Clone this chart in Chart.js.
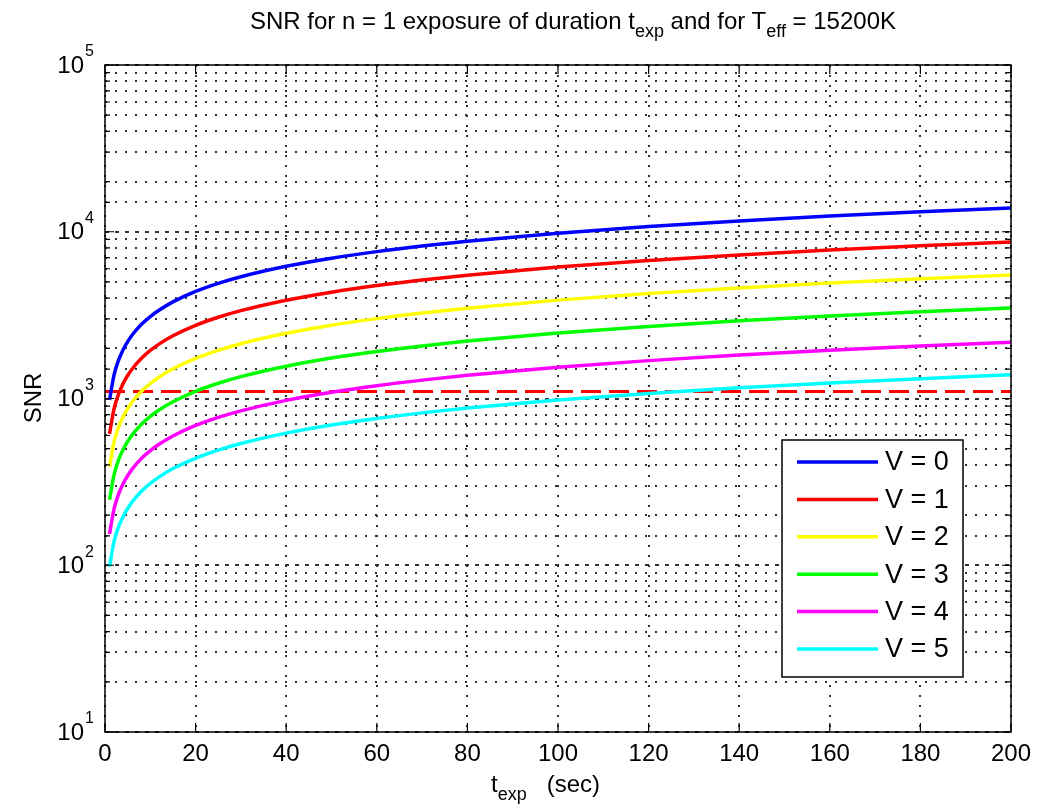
<!DOCTYPE html>
<html lang="en">
<head>
<meta charset="UTF-8">
<title>SNR vs exposure time</title>
<script src="https://cdn.jsdelivr.net/npm/chart.js"></script>
<style>
  body { margin: 0; background: #fff; font-family: "Liberation Sans", Arial, sans-serif; }
  #wrap { position: relative; width: 1043px; height: 812px; }
  #wrap canvas { position: absolute; left: 0; top: 0; }
  .lbl { position: absolute; color: #000; white-space: nowrap; font-size: 24px; line-height: 26px; z-index: 2; }
  .lbl sub { font-size: 18px; vertical-align: -8px; line-height: 0; }
  #title { left: 250px; top: 8px; }
  #xlabel { left: 491px; top: 771px; }
  #ylabel { left: -7px; top: 385px; width: 80px; text-align: center; transform: rotate(-90deg); }
</style>
</head>
<body>
<div id="wrap">
  <div id="title" class="lbl">SNR for n = 1 exposure of duration t<sub>exp</sub> and for T<sub>eff</sub> = 15200K</div>
  <div id="xlabel" class="lbl">t<sub>exp</sub>&nbsp;&nbsp;&nbsp;(sec)</div>
  <div id="ylabel" class="lbl">SNR</div>
  <canvas id="snrChart" width="1043" height="812"></canvas>
</div>

<script>
// exposure times (sec) and SNR
const tExp  = [1, 2, 3, 4, 5, 6, 8, 10, 12, 15, 20, 25, 30, 40, 50, 60, 70, 80, 100, 120, 140, 160, 180, 200];
const snrV0 = [981, 1387, 1699, 1962, 2194, 2403, 2775, 3102, 3398, 3799, 4387, 4905, 5373, 6205, 6937, 7599, 8208, 8774, 9810, 10746, 11607, 12409, 13161, 13873];
const snrV1 = [614, 868, 1063, 1228, 1373, 1504, 1736, 1941, 2127, 2378, 2746, 3070, 3363, 3884, 4342, 4756, 5137, 5492, 6140, 6726, 7265, 7766, 8237, 8683];
const snrV2 = [389, 550, 674, 778, 870, 953, 1100, 1230, 1347, 1507, 1740, 1945, 2131, 2460, 2751, 3013, 3255, 3479, 3890, 4261, 4603, 4920, 5219, 5501];
const snrV3 = [247, 349, 428, 494, 552, 605, 699, 781, 856, 957, 1105, 1235, 1353, 1562, 1747, 1913, 2067, 2209, 2470, 2706, 2923, 3124, 3314, 3493];
const snrV4 = [154, 218, 267, 308, 344, 377, 436, 487, 533, 596, 689, 770, 843, 974, 1089, 1193, 1289, 1377, 1540, 1687, 1822, 1948, 2066, 2178];
const snrV5 = [98, 139, 170, 196, 219, 240, 277, 310, 339, 380, 438, 490, 537, 620, 693, 759, 820, 877, 980, 1073, 1160, 1240, 1315, 1386];
const seriesLabels = ['V = 0', 'V = 1', 'V = 2', 'V = 3', 'V = 4', 'V = 5'];
const seriesColors = ['#0000ff', '#ff0000', '#ffff00', '#00ff00', '#ff00ff', '#00ffff'];
const thresholdSNR = 1100;
const xRange = [0, 200];
const yDecades = [10, 100, 1000, 10000, 100000];

const allSeries = [snrV0, snrV1, snrV2, snrV3, snrV4, snrV5];
const isDecade = v => Math.abs(Math.log10(v) - Math.round(Math.log10(v))) < 1e-9;
const FONT = '"Liberation Sans", Arial, sans-serif';

const datasets = allSeries.map((vals, i) => ({
    label: seriesLabels[i],
    data: tExp.map((t, j) => ({ x: t, y: vals[j] })),
    borderColor: seriesColors[i],
    borderWidth: 3.5,
    pointRadius: 0,
    cubicInterpolationMode: 'monotone',
    inLegend: true
}));
datasets.push({
    label: 'threshold',
    data: [{ x: xRange[0], y: thresholdSNR }, { x: xRange[1], y: thresholdSNR }],
    borderColor: '#ff0000',
    borderWidth: 3,
    borderDash: [20, 8],
    pointRadius: 0,
    inLegend: false
});

// box, inner tick marks, superscript y labels and legend box like matlab
const matlabAxes = {
    id: 'matlabAxes',
    afterDraw(chart) {
        const ctx = chart.ctx;
        const a = chart.chartArea;
        const xs = chart.scales.x, ys = chart.scales.y;
        ctx.save();
        ctx.strokeStyle = '#000';
        ctx.lineWidth = 1.5;
        ctx.strokeRect(a.left, a.top, a.right - a.left, a.bottom - a.top);

        ctx.lineWidth = 1.2;
        ctx.beginPath();
        xs.ticks.forEach(t => {
            const px = xs.getPixelForValue(t.value);
            ctx.moveTo(px, a.bottom); ctx.lineTo(px, a.bottom - 9);
            ctx.moveTo(px, a.top); ctx.lineTo(px, a.top + 9);
        });
        ys.ticks.forEach(t => {
            const py = ys.getPixelForValue(t.value);
            const len = isDecade(t.value) ? 9 : 5;
            ctx.moveTo(a.left, py); ctx.lineTo(a.left + len, py);
            ctx.moveTo(a.right, py); ctx.lineTo(a.right - len, py);
        });
        ctx.stroke();

        ctx.fillStyle = '#000';
        yDecades.forEach(d => {
            const py = ys.getPixelForValue(d);
            ctx.font = '24px ' + FONT;
            ctx.textAlign = 'right';
            ctx.textBaseline = 'middle';
            ctx.fillText('10', 84, py + 1);
            ctx.font = '16px ' + FONT;
            ctx.textAlign = 'left';
            ctx.fillText(String(Math.round(Math.log10(d))), 85, py - 13);
        });

        // legend
        const bx = 782, by = 440, bw = 181, bh = 237;
        ctx.fillStyle = '#fff';
        ctx.fillRect(bx, by, bw, bh);
        ctx.lineWidth = 1.5;
        ctx.strokeStyle = '#000';
        ctx.strokeRect(bx, by, bw, bh);
        const items = chart.data.datasets.filter(d => d.inLegend);
        items.forEach((d, i) => {
            const ry = by + 22 + i * 37.4;
            ctx.strokeStyle = d.borderColor;
            ctx.lineWidth = 3.5;
            ctx.beginPath();
            ctx.moveTo(bx + 15, ry); ctx.lineTo(bx + 96, ry);
            ctx.stroke();
            ctx.fillStyle = '#000';
            ctx.font = '27px ' + FONT;
            ctx.textAlign = 'left';
            ctx.textBaseline = 'middle';
            ctx.fillText(d.label, bx + 103, ry + 1);
        });
        ctx.restore();
    }
};

new Chart(document.getElementById('snrChart').getContext('2d'), {
    type: 'line',
    data: { datasets: datasets },
    options: {
        responsive: false,
        animation: false,
        layout: { padding: { left: 0, top: 65, right: 32, bottom: 0 } },
        plugins: {
            legend: { display: false },
            tooltip: { enabled: false }
        },
        scales: {
            x: {
                type: 'linear',
                min: xRange[0],
                max: xRange[1],
                afterFit: s => { s.height = 80; },
                ticks: {
                    stepSize: 20,
                    autoSkip: false,
                    maxRotation: 0,
                    padding: 8,
                    color: '#000',
                    font: { size: 24, family: FONT }
                },
                grid: { color: '#333', lineWidth: 2, drawTicks: false },
                border: { display: false, dash: [2, 8] }
            },
            y: {
                type: 'logarithmic',
                min: 10,
                max: 100000,
                afterFit: s => { s.width = 105; },
                ticks: { display: false, autoSkip: false },
                grid: { color: '#333', lineWidth: 2, drawTicks: false },
                border: {
                    display: false,
                    dash: ctx => (ctx.tick && isDecade(ctx.tick.value)) ? [4, 6] : [2, 8]
                }
            }
        }
    },
    plugins: [matlabAxes]
});
</script>
</body>
</html>
